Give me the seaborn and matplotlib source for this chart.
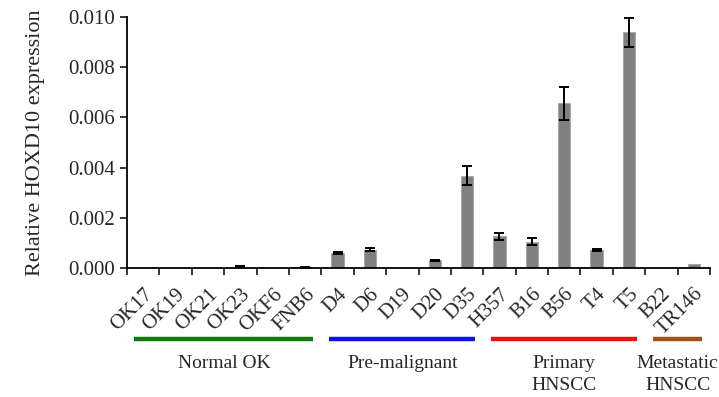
import numpy as np
import pandas as pd
import matplotlib
matplotlib.use("Agg")
import matplotlib.pyplot as plt
import matplotlib.transforms as mtransforms
import seaborn as sns

samples = ["OK17", "OK19", "OK21", "OK23", "OKF6", "FNB6",
           "D4", "D6", "D19", "D20", "D35",
           "H357", "B16", "B56", "T4", "T5",
           "B22", "TR146"]
expression = [0.0, 0.0, 0.0, 0.00005, 0.0, 0.00002,
              0.00060, 0.00073, 0.0, 0.00030, 0.00368,
              0.00126, 0.00105, 0.00656, 0.00073, 0.00940,
              0.0, 0.00017]
errors = [0.0, 0.0, 0.0, 0.00002, 0.0, 0.00001,
          0.00004, 0.00007, 0.0, 0.00003, 0.00037,
          0.00013, 0.00015, 0.00065, 0.00004, 0.00058,
          0.0, 0.0]
group_names = ["Normal OK", "Pre-malignant", "Primary\nHNSCC", "Metastatic\nHNSCC"]
group_sizes = [6, 5, 5, 2]
group_colors = ["#137a13", "#1010ee", "#ee1010", "#a0521a"]

sns.set_style("white")
plt.rcParams['font.family'] = ['Liberation Serif', 'DejaVu Serif']

df = pd.DataFrame({"sample": samples, "value": expression, "err": errors})

fig = plt.figure(figsize=(7.19, 3.97), dpi=100)
ax = fig.add_axes([127/719, 1-268/397, (710-127)/719, (268-17)/397])

sns.barplot(data=df, x="sample", y="value", color="#808080", width=0.38,
            edgecolor="#a8a8a8", linewidth=0.8, saturation=1, ax=ax, errorbar=None)
pos = np.arange(len(samples))
has_err = df["err"] > 0
ax.errorbar(pos[has_err], df["value"][has_err], yerr=df["err"][has_err], fmt="none",
            ecolor="black", elinewidth=1.4, capsize=3.5, capthick=1.4)

ax.set_xlim(-0.5, len(samples) - 0.5)
ax.set_ylim(0, 0.010)
ax.set_yticks(np.arange(0, 0.0101, 0.002))
ax.set_yticklabels([f"{v:.3f}" for v in np.arange(0, 0.0101, 0.002)], fontsize=15)
ax.set_xticks(pos)
ax.set_xticklabels(samples, rotation=45, ha="right", rotation_mode="anchor", fontsize=15)
offset = mtransforms.ScaledTranslation(-3/100, 0, fig.dpi_scale_trans)
for lab in ax.get_xticklabels():
    lab.set_transform(lab.get_transform() + offset)
ax.set_xticks(np.arange(-0.5, len(samples)), minor=True)
ax.tick_params(axis="x", which="major", length=0, pad=12)
ax.tick_params(axis="x", which="minor", length=5, width=1.3, direction="out", bottom=True)
ax.tick_params(axis="y", length=5, width=1.3, direction="out", left=True)
ax.set_xlabel("")
ax.set_ylabel("Relative HOXD10 expression", fontsize=16, labelpad=17)
for s in ["top", "right"]:
    ax.spines[s].set_visible(False)
for s in ["left", "bottom"]:
    ax.spines[s].set_linewidth(1.3)
    ax.spines[s].set_color("black")

trans = mtransforms.blended_transform_factory(ax.transData, fig.transFigure)
start = 0
for name, size, col in zip(group_names, group_sizes, group_colors):
    end = start + size - 1
    ax.plot([start - 0.27, end + 0.24], [1 - 339/397, 1 - 339/397], color=col,
            lw=3.2, transform=trans, clip_on=False, solid_capstyle="butt")
    ax.text((start + end) / 2, 1 - 355/397, name, transform=trans, ha="center",
            va="top", fontsize=14, linespacing=1.35)
    start += size

fig.savefig("out.png", dpi=100)
